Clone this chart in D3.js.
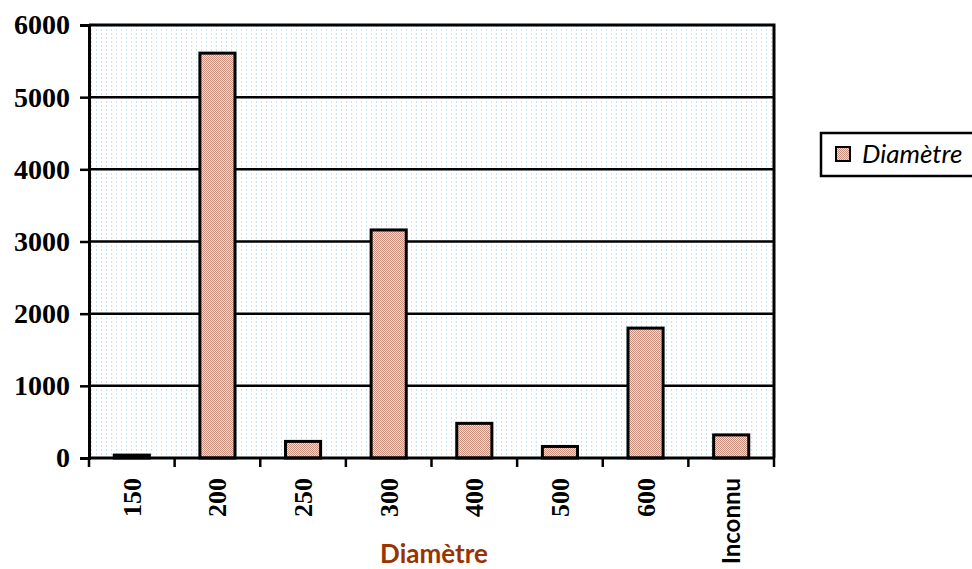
<!DOCTYPE html>
<html>
<head>
<meta charset="utf-8">
<script src="https://cdn.jsdelivr.net/npm/d3@7"></script>
<style>
  body { margin: 0; background: #fff; }
  svg { display: block; }
</style>
</head>
<body>
<div id="chart"></div>
<script>
// Bar chart: count of pipes by diameter (Excel-style look)
const categories = ["150", "200", "250", "300", "400", "500", "600", "Inconnu"];
const counts     = [40, 5610, 230, 3160, 480, 160, 1800, 320];
const yTicks     = [0, 1000, 2000, 3000, 4000, 5000, 6000];
const seriesName = "Diamètre";
const axisTitle  = "Diamètre";

const width = 972, height = 569;
const margin = { top: 25, right: 198, bottom: 111, left: 89 };
const plot_width  = width  - margin.left - margin.right;
const plot_height = height - margin.top  - margin.bottom;

const svg = d3.select("#chart").append("svg")
  .attr("width", width)
  .attr("height", height);

// Fill patterns: dotted light blue background, dithered pink bars
const defs = svg.append("defs");
const bgPat = defs.append("pattern")
  .attr("id", "bg-dots")
  .attr("patternUnits", "userSpaceOnUse")
  .attr("width", 5).attr("height", 4);
bgPat.append("rect").attr("width", 5).attr("height", 4).attr("fill", "#ffffff");
bgPat.append("rect").attr("x", 2).attr("y", 0).attr("width", 1).attr("height", 2).attr("fill", "#cbe3f7");

const barPat = defs.append("pattern")
  .attr("id", "bar-dither")
  .attr("patternUnits", "userSpaceOnUse")
  .attr("width", 2).attr("height", 2);
barPat.append("rect").attr("width", 2).attr("height", 2).attr("fill", "#f5ddd2");
barPat.append("rect").attr("width", 1).attr("height", 1).attr("fill", "#c98e7c");
barPat.append("rect").attr("x", 1).attr("y", 1).attr("width", 1).attr("height", 1).attr("fill", "#c98e7c");

const plot = svg.append("g")
  .attr("transform", `translate(${margin.left},${margin.top})`);

// SCALES
const xScale = d3.scaleBand()
  .domain(categories)
  .range([0, plot_width])
  .paddingInner(0.59)
  .paddingOuter(0.295);

const yScale = d3.scaleLinear()
  .domain([0, 6000])
  .range([plot_height, 0]);

// Plot background
plot.append("rect")
  .attr("width", plot_width)
  .attr("height", plot_height)
  .attr("fill", "url(#bg-dots)");

// Gridlines
plot.append("g")
  .selectAll("line")
  .data(yTicks.filter(d => d > 0 && d < 6000))
  .join("line")
  .attr("x1", 0).attr("x2", plot_width)
  .attr("y1", d => yScale(d)).attr("y2", d => yScale(d))
  .attr("stroke", "#000")
  .attr("stroke-width", 2.5);

// Plot frame (top and right)
plot.append("path")
  .attr("d", `M0,0H${plot_width}V${plot_height}`)
  .attr("fill", "none")
  .attr("stroke", "#000")
  .attr("stroke-width", 3);

// BARS
plot.append("g")
  .selectAll("rect")
  .data(counts)
  .join("rect")
  .attr("x", (d, i) => xScale(categories[i]))
  .attr("y", d => yScale(d))
  .attr("width", xScale.bandwidth())
  .attr("height", d => plot_height - yScale(d))
  .attr("fill", "url(#bar-dither)")
  .attr("stroke", "#000")
  .attr("stroke-width", 3);

// Y AXIS
const yAxis = plot.append("g")
  .call(d3.axisLeft(yScale).tickValues(yTicks).tickSize(9).tickPadding(10).tickFormat(d3.format("d")));
yAxis.select(".domain").attr("stroke-width", 3);
yAxis.selectAll(".tick line").attr("stroke-width", 2.5);
yAxis.selectAll("text")
  .style("font-family", "'Liberation Serif', 'Times New Roman', serif")
  .style("font-weight", "bold")
  .style("font-size", "28px")
  .attr("fill", "#000");

// X AXIS: ticks on band boundaries, labels rotated
const xAxisG = plot.append("g")
  .attr("transform", `translate(0,${plot_height})`);
xAxisG.append("line")
  .attr("x1", 0).attr("x2", plot_width)
  .attr("stroke", "#000").attr("stroke-width", 3);
const step = xScale.step();
xAxisG.selectAll(".bound")
  .data(d3.range(categories.length + 1))
  .join("line")
  .attr("class", "bound")
  .attr("x1", i => i * step).attr("x2", i => i * step)
  .attr("y1", 0).attr("y2", 9)
  .attr("stroke", "#000").attr("stroke-width", 2.5);

xAxisG.selectAll(".xlabel")
  .data(categories)
  .join("text")
  .attr("class", "xlabel")
  .attr("transform", d => `translate(${xScale(d) + xScale.bandwidth() / 2 + 9},20) rotate(-90)`)
  .attr("text-anchor", "end")
  .style("font-family", d => isNaN(+d) ? "Lato, 'Open Sans', sans-serif" : "'Liberation Serif', 'Times New Roman', serif")
  .style("font-weight", "bold")
  .style("font-size", d => isNaN(+d) ? "24px" : "26px")
  .text(d => d);

// AXIS TITLE
svg.append("text")
  .attr("x", 434)
  .attr("y", 563)
  .attr("text-anchor", "middle")
  .style("font-family", "Lato, 'Open Sans', sans-serif")
  .style("font-weight", "bold")
  .style("font-size", "26px")
  .attr("fill", "#993300")
  .text(axisTitle);

// LEGEND
const legend = svg.append("g").attr("transform", "translate(821,133)");
legend.append("rect")
  .attr("width", 160).attr("height", 43)
  .attr("fill", "#fff")
  .attr("stroke", "#000")
  .attr("stroke-width", 2.5);
legend.append("rect")
  .attr("x", 15).attr("y", 14)
  .attr("width", 14).attr("height", 14)
  .attr("fill", "url(#bar-dither)")
  .attr("stroke", "#000")
  .attr("stroke-width", 2);
legend.append("text")
  .attr("x", 41).attr("y", 30)
  .style("font-family", "Lato, 'Open Sans', sans-serif")
  .style("font-style", "italic")
  .style("font-size", "26px")
  .text(seriesName);
</script>
</body>
</html>
